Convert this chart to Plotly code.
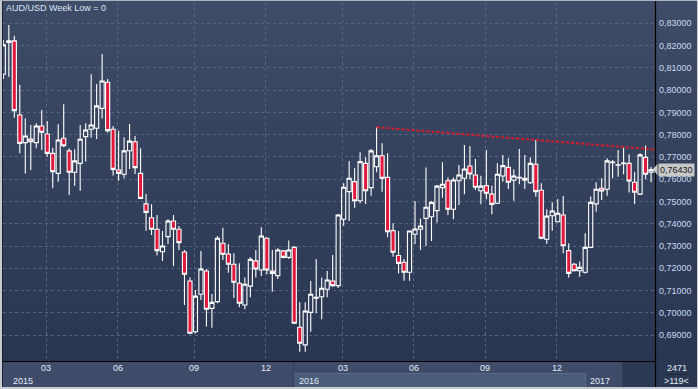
import plotly.graph_objects as go

# ---------------- data ----------------
opens = [0.8071, 0.8214, 0.8221, 0.7888, 0.7764, 0.7780, 0.7764, 0.7839, 0.7803, 0.7716,
         0.7626, 0.7784, 0.7727, 0.7631, 0.7671, 0.7791, 0.7824, 0.7829, 0.7918, 0.8035,
         0.7824, 0.7641, 0.7622, 0.7728, 0.7768, 0.7626, 0.7489, 0.7427, 0.7375, 0.7274,
         0.7342, 0.7412, 0.7375, 0.7273, 0.7143, 0.6915, 0.7083, 0.7188, 0.7020, 0.7050,
         0.7312, 0.7264, 0.7218, 0.7133, 0.7035, 0.7120, 0.7233, 0.7192, 0.7335, 0.7188,
         0.7167, 0.7278, 0.7249, 0.7294, 0.6935, 0.6856, 0.7002, 0.7066, 0.7072, 0.7106,
         0.7143, 0.7122, 0.7420, 0.7544, 0.7589, 0.7503, 0.7671, 0.7562, 0.7656, 0.7705,
         0.7608, 0.7369, 0.7257, 0.7227, 0.7182, 0.7353, 0.7375, 0.7424, 0.7431, 0.7459,
         0.7562, 0.7593, 0.7465, 0.7593, 0.7604, 0.7659, 0.7619, 0.7548, 0.7571, 0.7533,
         0.7492, 0.7614, 0.7653, 0.7595, 0.7605, 0.7604, 0.7584, 0.7667, 0.7550, 0.7330,
         0.7436, 0.7409, 0.7439, 0.7279, 0.7218, 0.7189, 0.7182, 0.7294, 0.7489, 0.7559,
         0.7555, 0.7674, 0.7663, 0.7670, 0.7671, 0.7586, 0.7533, 0.7698, 0.7631]
highs = [0.8225, 0.8292, 0.8244, 0.8023, 0.7873, 0.7843, 0.7851, 0.7911, 0.7861, 0.7741,
         0.7847, 0.7936, 0.7739, 0.7734, 0.7843, 0.7851, 0.8071, 0.8027, 0.8162, 0.8050,
         0.7839, 0.7818, 0.7788, 0.7848, 0.7794, 0.7739, 0.7533, 0.7487, 0.7439, 0.7367,
         0.7420, 0.7439, 0.7390, 0.7282, 0.7159, 0.7102, 0.7278, 0.7197, 0.7085, 0.7345,
         0.7382, 0.7309, 0.7267, 0.7222, 0.7159, 0.7249, 0.7282, 0.7384, 0.7339, 0.7282,
         0.7290, 0.7282, 0.7325, 0.7300, 0.7047, 0.7047, 0.7143, 0.7242, 0.7158, 0.7188,
         0.7260, 0.7444, 0.7582, 0.7682, 0.7649, 0.7721, 0.7698, 0.7736, 0.7833, 0.7761,
         0.7716, 0.7402, 0.7367, 0.7242, 0.7369, 0.7502, 0.7424, 0.7652, 0.7502, 0.7574,
         0.7676, 0.7607, 0.7607, 0.7664, 0.7754, 0.7749, 0.7691, 0.7615, 0.7731, 0.7571,
         0.7671, 0.7709, 0.7694, 0.7644, 0.7736, 0.7709, 0.7698, 0.7776, 0.7582, 0.7465,
         0.7496, 0.7511, 0.7525, 0.7312, 0.7225, 0.7230, 0.7357, 0.7522, 0.7586, 0.7604,
         0.7694, 0.7686, 0.7731, 0.7741, 0.7712, 0.7631, 0.7716, 0.7751, 0.7656]
lows = [0.8050, 0.8060, 0.7876, 0.7716, 0.7626, 0.7641, 0.7739, 0.7731, 0.7701, 0.7559,
        0.7589, 0.7743, 0.7529, 0.7571, 0.7548, 0.7679, 0.7786, 0.7780, 0.7873, 0.7809,
        0.7616, 0.7593, 0.7604, 0.7646, 0.7623, 0.7510, 0.7369, 0.7349, 0.7257, 0.7233,
        0.7309, 0.7210, 0.7282, 0.7035, 0.6905, 0.6908, 0.7058, 0.6938, 0.6933, 0.7043,
        0.7237, 0.7180, 0.7066, 0.7025, 0.7016, 0.7070, 0.7159, 0.7165, 0.7173, 0.7095,
        0.7152, 0.7245, 0.7242, 0.6950, 0.6825, 0.6825, 0.6915, 0.6998, 0.6971, 0.7070,
        0.7117, 0.7111, 0.7391, 0.7412, 0.7472, 0.7492, 0.7489, 0.7526, 0.7631, 0.7544,
        0.7339, 0.7252, 0.7177, 0.7144, 0.7144, 0.7309, 0.7282, 0.7301, 0.7322, 0.7405,
        0.7517, 0.7439, 0.7420, 0.7484, 0.7532, 0.7600, 0.7551, 0.7487, 0.7510, 0.7442,
        0.7489, 0.7589, 0.7556, 0.7503, 0.7577, 0.7556, 0.7578, 0.7521, 0.7330, 0.7309,
        0.7369, 0.7405, 0.7267, 0.7158, 0.7185, 0.7162, 0.7177, 0.7290, 0.7454, 0.7507,
        0.7526, 0.7604, 0.7611, 0.7622, 0.7540, 0.7489, 0.7529, 0.7601, 0.7586]
closes = [0.8203, 0.8221, 0.7908, 0.7761, 0.7794, 0.7768, 0.7839, 0.7811, 0.7716, 0.7634,
          0.7776, 0.7750, 0.7631, 0.7682, 0.7779, 0.7821, 0.7843, 0.7929, 0.8041, 0.7818,
          0.7644, 0.7626, 0.7727, 0.7771, 0.7652, 0.7514, 0.7451, 0.7375, 0.7279, 0.7300,
          0.7412, 0.7375, 0.7315, 0.7173, 0.6908, 0.7075, 0.7197, 0.7016, 0.7047, 0.7335,
          0.7263, 0.7218, 0.7137, 0.7043, 0.7128, 0.7240, 0.7197, 0.7345, 0.7192, 0.7177,
          0.7282, 0.7249, 0.7282, 0.6953, 0.6863, 0.7008, 0.7083, 0.7070, 0.7110, 0.7147,
          0.7122, 0.7439, 0.7564, 0.7604, 0.7503, 0.7679, 0.7548, 0.7727, 0.7705, 0.7604,
          0.7364, 0.7272, 0.7222, 0.7182, 0.7367, 0.7376, 0.7390, 0.7474, 0.7496, 0.7569,
          0.7577, 0.7465, 0.7596, 0.7619, 0.7646, 0.7623, 0.7564, 0.7569, 0.7537, 0.7487,
          0.7622, 0.7661, 0.7586, 0.7614, 0.7608, 0.7595, 0.7671, 0.7544, 0.7335, 0.7434,
          0.7457, 0.7447, 0.7301, 0.7177, 0.7189, 0.7204, 0.7294, 0.7496, 0.7555, 0.7547,
          0.7682, 0.7677, 0.7665, 0.7672, 0.7592, 0.7541, 0.7709, 0.7622, 0.7643]

# month boundaries (bar index where a new quarter-month starts) and their labels
month_idx = [8, 21, 35, 48, 62, 75, 88, 101]
month_labels = ["03", "06", "09", "12", "03", "06", "09", "12"]
year_labels = ["2015", "2016", "2017"]
price_levels = [0.69, 0.70, 0.71, 0.72, 0.73, 0.74, 0.75, 0.76, 0.77, 0.78, 0.79, 0.80, 0.81, 0.82, 0.83]
title_text = "AUD/USD Week Low = 0"
bars_total = "2471"
bars_visible = ">119<"

# trend line anchor bars (resistance through two highs)
trend_a, trend_b = 68, 97

# ---------------- layout geometry ----------------
W, H = 698, 389
PL, PR, PT, PB = 3, 655, 2, 361
XR = [-0.06, 118.72]
YR = [0.67836, 0.83956]


def px_x(px):
    return (px - PL) / (PR - PL)


def px_y(py):
    return (PB - py) / (PB - PT)


def hexlerp(c1, c2, t):
    a = [int(c1[i:i + 2], 16) for i in (1, 3, 5)]
    b = [int(c2[i:i + 2], 16) for i in (1, 3, 5)]
    return "#" + "".join(f"{round(a[i] + (b[i] - a[i]) * t):02x}" for i in range(3))


idx = list(range(len(opens)))

fig = go.Figure()
fig.add_trace(go.Candlestick(
    x=idx, open=opens, high=highs, low=lows, close=closes,
    increasing=dict(line=dict(color="#ffffff", width=1.1), fillcolor="rgba(0,0,0,0)"),
    decreasing=dict(line=dict(color="#ffffff", width=1.1), fillcolor="#e0183c"),
    whiskerwidth=0, showlegend=False, hoverinfo="skip",
))

# trend line through two highs, extended to the right edge
slope = (highs[trend_b] - highs[trend_a]) / (trend_b - trend_a)
x_end = XR[1]
fig.add_trace(go.Scatter(
    x=[trend_a, x_end], y=[highs[trend_a], highs[trend_a] + slope * (x_end - trend_a)],
    mode="lines", line=dict(color="#d81a2a", width=2, dash="3px,2px"),
    showlegend=False, hoverinfo="skip", cliponaxis=True,
))

shapes = []
# background gradient
N = 45
top_c, bot_c = "#3f4c67", "#2a3651"
for k in range(N):
    y0 = PB * k / N
    y1 = PB * (k + 1) / N + 0.6
    shapes.append(dict(type="rect", xref="paper", yref="paper", layer="below",
                       x0=px_x(0), x1=px_x(W), y0=px_y(y1), y1=px_y(y0),
                       fillcolor=hexlerp(top_c, bot_c, (k + 0.5) / N), line=dict(width=0)))


def prect(x0, y0, x1, y1, fill, layer="below"):
    return dict(type="rect", xref="paper", yref="paper", layer=layer,
                x0=px_x(x0), x1=px_x(x1), y0=px_y(y1), y1=px_y(y0),
                fillcolor=fill, line=dict(width=0))


def pline(x0, y0, x1, y1, color, width=1, layer="above"):
    return dict(type="line", xref="paper", yref="paper", layer=layer,
                x0=px_x(x0), x1=px_x(x1), y0=px_y(y0), y1=px_y(y1),
                line=dict(color=color, width=width))


# bottom time band
shapes.append(prect(0, PB, PR, H, "#3e4c6a"))
shapes.append(prect(293, 374, 585, H, "#4b5b7a"))
shapes.append(pline(293, 373.5, 585, 373.5, "#5a6b8c"))
shapes.append(pline(293.5, PB, 293.5, H, "#33405a"))
shapes.append(pline(585.5, 374, 585.5, H, "#5a6b8c"))
shapes.append(prect(623, PB, PR, H, "#2c3953"))
shapes.append(pline(622.5, PB, 622.5, H, "#33405a"))
shapes.append(prect(PR, PB, W, H, "#2c3852"))
shapes.append(pline(665, 374.5, 690, 374.5, "#1e2636"))
# frame lines
shapes.append(pline(PL, PB + 0.5, PR, PB + 0.5, "#000000", 1.2))
shapes.append(pline(PR + 0.5, 0, PR + 0.5, H, "#000000", 1.2))
shapes.append(pline(2.5, 0, 2.5, H, "#1b2333", 1))
shapes.append(prect(0, 0, 2, H, "#c5cad3", "above"))
shapes.append(prect(0, 387, W, H, "#c5cad3", "above"))
shapes.append(prect(0, 0, W, 1, "#aeb4bf", "above"))
shapes.append(prect(697, 0, W, H, "#c5cad3", "above"))

# current price tag arrow
last = closes[-1]
tag_py = 23.3 + (0.83 - last) * 2227
shapes.append(dict(type="path", xref="paper", yref="paper", layer="above",
                   path=f"M {px_x(652.5)} {px_y(tag_py)} L {px_x(657.5)} {px_y(tag_py - 5.5)} "
                        f"L {px_x(657.5)} {px_y(tag_py + 5.5)} Z",
                   fillcolor="#c8c8c8", line=dict(width=0)))

annotations = []
font = "Liberation Sans, Arial, sans-serif"
annotations.append(dict(text=title_text, xref="paper", yref="paper", x=px_x(4), y=px_y(8.5),
                        xanchor="left", yanchor="middle", showarrow=False,
                        font=dict(family=font, size=9, color="#dce7f8")))
for mi, ml in zip(month_idx, month_labels):
    annotations.append(dict(text=ml, xref="x", yref="paper", x=mi - 0.2, y=px_y(368.5),
                            xanchor="center", yanchor="middle", showarrow=False,
                            font=dict(family=font, size=9, color="#e2ebf8")))
for yl, ypx in zip(year_labels, [11, 297, 588]):
    annotations.append(dict(text=yl, xref="paper", yref="paper", x=px_x(ypx), y=px_y(380.5),
                            xanchor="left", yanchor="middle", showarrow=False,
                            font=dict(family=font, size=9, color="#e2ebf8")))
annotations.append(dict(text=bars_total, xref="paper", yref="paper", x=px_x(676.5), y=px_y(367.5),
                        xanchor="center", yanchor="middle", showarrow=False,
                        font=dict(family=font, size=9, color="#e2ebf8")))
annotations.append(dict(text=bars_visible, xref="paper", yref="paper", x=px_x(676.5), y=px_y(380.5),
                        xanchor="center", yanchor="middle", showarrow=False,
                        font=dict(family=font, size=9, color="#e2ebf8")))
annotations.append(dict(text=f"{last:.5f}".replace(".", ","), xref="paper", yref="paper",
                        x=px_x(657.5), y=px_y(tag_py), xanchor="left", yanchor="middle",
                        showarrow=False, bgcolor="#c8c8c8", borderpad=1,
                        font=dict(family=font, size=9, color="#1a1a1a")))

fig.update_layout(
    width=W, height=H,
    margin=dict(l=PL, r=W - PR, t=PT, b=H - PB, pad=0),
    paper_bgcolor="#34415c", plot_bgcolor="rgba(0,0,0,0)",
    boxgap=0.25, boxgroupgap=0.0,
    shapes=shapes, annotations=annotations,
    showlegend=False,
    xaxis=dict(range=XR, rangeslider=dict(visible=False), showgrid=True,
               gridcolor="#56647f", griddash="3px,3px", gridwidth=1,
               tickmode="array", tickvals=[m - 0.2 for m in month_idx], showticklabels=False,
               ticks="", zeroline=False, showline=False, fixedrange=True),
    yaxis=dict(range=YR, side="right", showgrid=True, gridcolor="#56647f",
               griddash="3px,3px", gridwidth=1, tickmode="array", tickvals=price_levels,
               ticktext=[f"{v:.5f}".replace(".", ",") for v in price_levels],
               tickfont=dict(family=font, size=9, color="#c8daf4"), ticks="",
               ticklabelstandoff=3, automargin=False, zeroline=False, showline=False,
               fixedrange=True),
)

fig.write_html("out.html", config={"displayModeBar": False, "staticPlot": True},
               post_script="document.body.style.margin='0';document.body.style.overflow='hidden';")
